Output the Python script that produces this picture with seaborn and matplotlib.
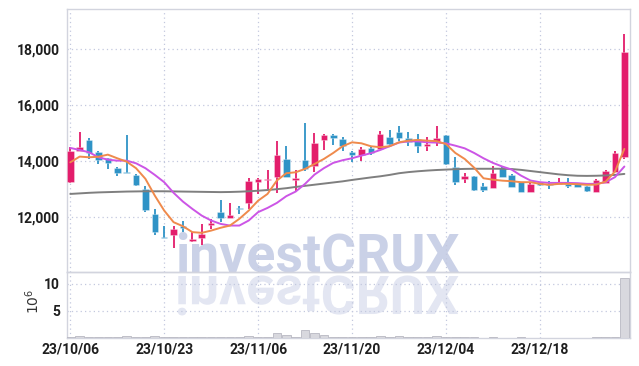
import numpy as np
import pandas as pd
import matplotlib
matplotlib.use("Agg")
import matplotlib.pyplot as plt
import seaborn as sns
from matplotlib.textpath import TextPath
from matplotlib.font_manager import FontProperties
from matplotlib.patches import PathPatch
from matplotlib.transforms import Affine2D, IdentityTransform

# ---------------- data ----------------
tick_pos = [0, 10, 20, 30, 40, 50]
tick_labels = ["23/10/06", "23/10/23", "23/11/06", "23/11/20", "23/12/04", "23/12/18"]

opens = [13250, 14350, 14760, 14330, 14100, 13740, 13620, 13480, 13000, 12110,
         11270, 11340, 11670, 11140, 11260, 11720, 12170, 11970, 12320, 12500,
         13240, 13320, 13440, 14070, 13330, 14050, 13830, 14760, 14930, 14790,
         14310, 14220, 14450, 14430, 14840, 15040, 14820, 14790, 14550, 14670,
         14940, 13780, 13360, 13450, 13100, 13030, 13740, 13500, 13240, 12900,
         13240, 13180, 13160, 13180, 13160, 13120, 12900, 13220, 13620, 14130]
highs = [14500, 15030, 14810, 14370, 14120, 13790, 14930, 13540, 13120, 12290,
         11690, 11670, 11870, 11460, 11750, 11930, 12620, 12500, 12380, 13380,
         13400, 13680, 14720, 14520, 13690, 15360, 15000, 14960, 14960, 14860,
         14350, 14490, 14520, 15080, 15100, 15260, 15020, 14970, 14840, 15240,
         14940, 14130, 13560, 13460, 13220, 13830, 13780, 13520, 13240, 13240,
         13260, 13300, 13380, 13380, 13180, 13120, 13340, 13680, 14340, 18540]
lows = [13200, 14350, 14070, 13890, 13720, 13460, 13560, 13120, 12190, 11340,
        11230, 10890, 11460, 11100, 10980, 11570, 11810, 11970, 12110, 12290,
        12820, 13000, 12850, 13430, 12940, 13650, 13620, 14390, 14570, 14370,
        13950, 14010, 14220, 14430, 14520, 14700, 14550, 14280, 14350, 14550,
        13860, 13140, 13220, 12940, 12880, 13030, 13440, 13060, 12880, 12900,
        13120, 13000, 13160, 13030, 13060, 12900, 12900, 13220, 13620, 14070]
closes = [14350, 14500, 14280, 14050, 13920, 13560, 13560, 13150, 12260, 11450,
          11240, 11570, 11600, 11220, 11400, 11780, 11970, 12070, 12290, 13290,
          13350, 13370, 14220, 13440, 13390, 13720, 14640, 14930, 14810, 14550,
          14220, 14430, 14280, 14970, 14600, 14830, 14690, 14550, 14610, 14820,
          13890, 13260, 13450, 12970, 12970, 13570, 13440, 13080, 12900, 13180,
          13150, 13150, 13260, 13100, 13080, 12940, 13320, 13650, 14290, 17900]

ma5 = [13950, 14155, 14130, 14150, 14225, 14095, 13975, 13740, 13360, 12760,
       12225, 11810, 11665, 11455, 11430, 11510, 11610, 11690, 11930, 12225,
       12580, 12820, 13300, 13560, 13595, 13715, 13890, 14070, 14285, 14525,
       14665, 14630, 14525, 14490, 14525, 14665, 14725, 14750, 14725, 14705,
       14605, 14285, 14070, 13760, 13380, 13330, 13295, 13275, 13240, 13240,
       13180, 13145, 13180, 13180, 13170, 13145, 13155, 13260, 13620, 14430]
ma10 = [14465, 14390, 14310, 14130, 14045, 14010, 14010, 13915, 13740, 13500,
        13240, 12860, 12545, 12285, 12045, 11870, 11750, 11690, 11690, 11870,
        12170, 12320, 12500, 12740, 12905, 13180, 13510, 13740, 13930, 14025,
        14095, 14190, 14275, 14390, 14525, 14655, 14700, 14700, 14665, 14655,
        14630, 14545, 14450, 14285, 14095, 13930, 13800, 13690, 13475, 13300,
        13240, 13215, 13215, 13215, 13205, 13180, 13180, 13240, 13420, 13800]
ma_long = [12820, 12840, 12860, 12875, 12885, 12895, 12905, 12910, 12915, 12915,
           12915, 12910, 12905, 12900, 12895, 12890, 12885, 12890, 12900, 12915,
           12935, 12960, 12990, 13025, 13070, 13110, 13150, 13190, 13230, 13270,
           13320, 13365, 13410, 13450, 13500, 13560, 13600, 13630, 13655, 13675,
           13690, 13705, 13715, 13720, 13720, 13720, 13720, 13710, 13680, 13640,
           13600, 13560, 13520, 13490, 13470, 13465, 13470, 13480, 13500, 13535]
volume_m = [0.15, 0.35, 0.2, 0.2, 0.1, 0.1, 0.35, 0.1, 0.25, 0.35,
            0.15, 0.15, 0.15, 0.1, 0.1, 0.1, 0.1, 0.15, 0.15, 0.45,
            0.2, 0.1, 0.85, 0.6, 0.2, 1.4, 1.0, 0.55, 0.15, 0.1,
            0.1, 0.1, 0.1, 0.45, 0.15, 0.35, 0.15, 0.15, 0.15, 0.35,
            0.2, 0.15, 0.1, 0.25, 0.05, 0.25, 0.05, 0.05, 0.2, 0.05,
            0.05, 0.03, 0.05, 0.03, 0.03, 0.05, 0.1, 0.15, 0.2, 11.1]

# ---------------- style ----------------
sns.set_style("white")
plt.rcParams['font.family'] = ['Roboto', 'DejaVu Sans']

UP = '#e31d6b'
DOWN = '#2f93c6'
GRID = '#c3c8de'
SPINE = '#d2d4de'
TICKFONT = dict(family='Roboto', weight='bold', size=10)

W, H = 639, 366
fig = plt.figure(figsize=(W / 100, H / 100), dpi=100)
fig.patch.set_facecolor('white')

L, R, T, MID, B = 67, 630, 9, 272, 338
ax = fig.add_axes([L / W, 1 - MID / H, (R - L) / W, (MID - T) / H])
axv = fig.add_axes([L / W, 1 - B / H, (R - L) / W, (B - MID) / H], sharex=ax)
for a in (ax, axv):
    a.patch.set_alpha(0)

# ---------------- watermark ----------------
wm_color = '#cad1e7'
fsize = 38.5
base_y = 271
fig.text(175 / W, 1 - base_y / H, 'investCRUX', fontsize=fsize, fontweight='bold',
         family='Roboto', color=wm_color, ha='left', va='baseline', zorder=-5)
fp = FontProperties(family='Roboto', weight='bold')
tp = TextPath((0, 0), 'investCRUX', size=fsize * 100 / 72, prop=fp)
tr = Affine2D().scale(1, -1).translate(175, H - (base_y + 5))
refl = PathPatch(tr.transform_path(tp), facecolor='#e3e6f2', edgecolor='none',
                 transform=IdentityTransform(), zorder=-6)
fig.patches.append(refl)
refl.set_figure(fig)

# ---------------- price panel ----------------
idx = np.arange(len(closes))
o = np.array(opens, float)
c = np.array(closes, float)
hi = np.array(highs, float)
lo = np.array(lows, float)
up = c >= o
cols = [UP if u else DOWN for u in up]

ax.vlines(idx, lo, hi, colors=cols, lw=1.3, zorder=3)
mid = (o + c) / 2
bh = np.maximum(np.abs(c - o), 45)
ax.bar(idx, bh, bottom=mid - bh / 2, width=0.7, color=cols, linewidth=0.6,
       edgecolor=[(1, 1, 1, 0.35)] * len(idx), zorder=4)

df = pd.DataFrame({'i': idx, 'ma5': ma5, 'ma10': ma10, 'ma_long': ma_long})
sns.lineplot(data=df, x='i', y='ma_long', ax=ax, color='#7f7f7f', lw=1.4, zorder=5)
sns.lineplot(data=df, x='i', y='ma10', ax=ax, color='#cc55e6', lw=1.4, zorder=5)
sns.lineplot(data=df, x='i', y='ma5', ax=ax, color='#ef8a4c', lw=1.4, zorder=6)

ax.set_xlim(-0.35, 59.6)
ax.set_ylim(10030, 19430)
yt = [12000, 14000, 16000, 18000]
ax.set_yticks(yt)
ax.set_yticklabels([f"{v:,}" for v in yt], **TICKFONT)
ax.set_xticks(tick_pos)
ax.tick_params(axis='x', labelbottom=False, length=0)
ax.tick_params(axis='y', length=0, pad=5, labelcolor='#1e1e1e')
ax.set_xlabel('')
ax.set_ylabel('')
ax.grid(True, ls=(0, (1, 2.5)), color=GRID, lw=0.9)

# ---------------- volume panel ----------------
axv.bar(idx, volume_m, width=0.92, color='#d8d8de', edgecolor='#b8b8c2',
        linewidth=0.6, zorder=3)
axv.set_ylim(0, 12.2)
axv.set_yticks([5, 10])
axv.set_yticklabels(['5', '10'], **TICKFONT)
axv.set_xticks(tick_pos)
axv.set_xticklabels(tick_labels, **TICKFONT)
axv.tick_params(axis='both', length=0, labelcolor='#1e1e1e')
axv.tick_params(axis='y', pad=5)
axv.tick_params(axis='x', pad=3)
axv.grid(True, ls=(0, (1, 2.5)), color=GRID, lw=0.9)
fig.text(33 / W, 1 - 301 / H, r'$10^6$', fontsize=10, color='#333333',
         rotation=90, ha='center', va='center', family='DejaVu Sans')

for a in (ax, axv):
    for s in a.spines.values():
        s.set_color(SPINE)
        s.set_linewidth(1.0)

fig.savefig('out.png', dpi=100, facecolor='white')
